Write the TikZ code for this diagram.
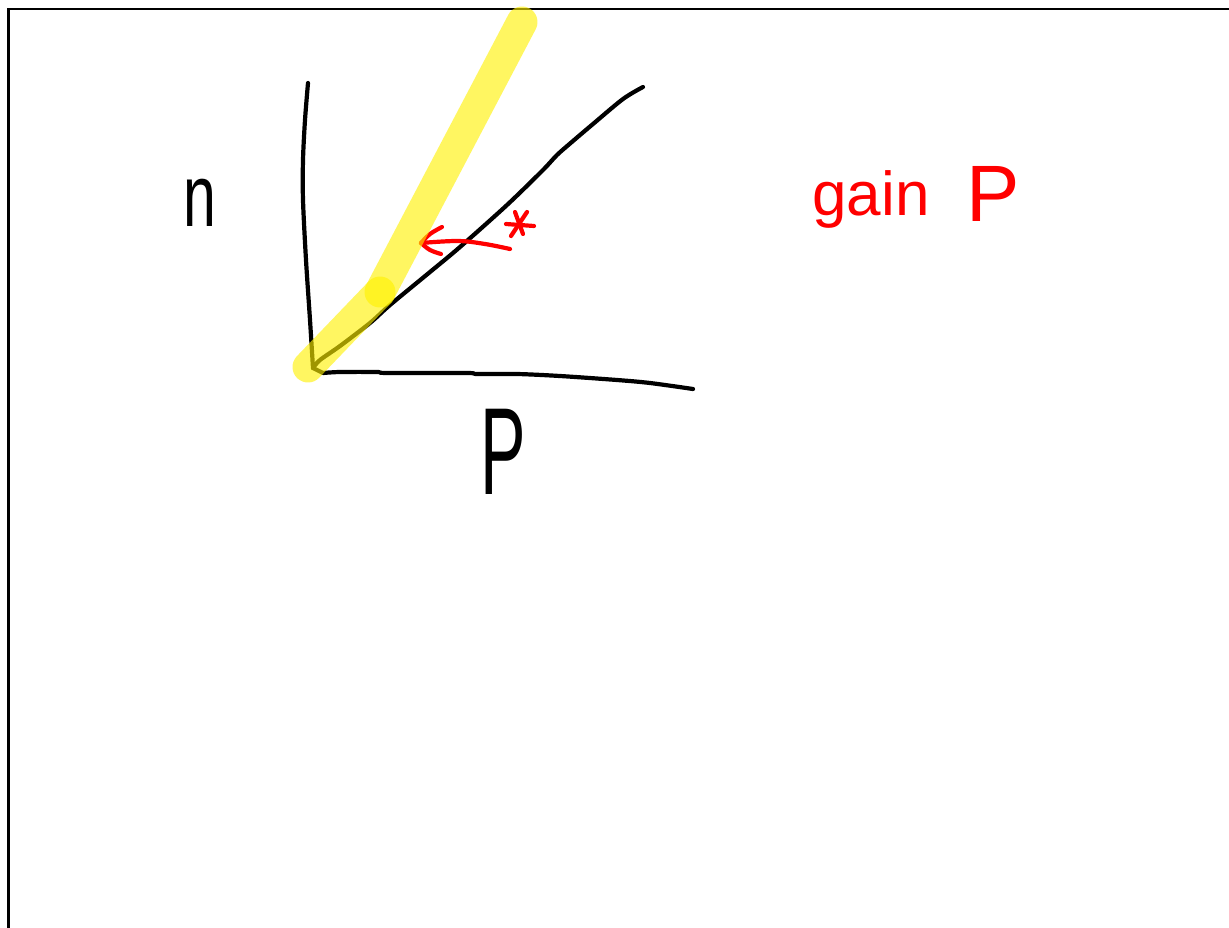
\documentclass[tikz,border=0pt]{standalone}
\usepackage{graphicx}
\usepackage{fontspec}
\setmainfont{Liberation Sans}
\tikzset{
  ink/.style={line width=4.2pt, line cap=round, line join=round, black},
  redink/.style={line width=4.2pt, line cap=round, line join=round, red},
  hilite/.style={line width=31pt, line cap=round, yellow, draw opacity=0.62},
  hand/.style={inner sep=0pt, outer sep=0pt}
}
\begin{document}
\begin{tikzpicture}[x=1pt,y=-1pt]
\useasboundingbox (0,0) rectangle (1229,928);
\clip (0,0) rectangle (1229,928);
\fill[white] (0,0) rectangle (1229,928);
% frame
\draw[line width=2.5pt] (8.5,9) rectangle (1300,1000);
% axes
\draw[ink] plot[smooth, tension=0.5] coordinates {(308,83) (305,120) (303,160) (303,200) (306,260) (310,320) (313,368)};
\draw[ink] plot[smooth, tension=0.5] coordinates {(323,373) (340,372) (377,372) (387,373) (467,373) (477,374) (517,374) (560,376) (617,380) (650,383) (693,389)};
% curve
\draw[ink] plot[smooth, tension=0.5] coordinates {(313,368) (320,360) (340,346) (370,323) (390,305) (430,272) (460,247) (507,205) (543,170) (557,155) (573,141) (593,124) (623,99) (643,87)};
\draw[ink] (313,368) -- (323,373);
% labels
\node[hand, font=\fontsize{88}{90}\selectfont] (n) at (200,203) {\scalebox{0.67}[1]{n}};
\node[hand, font=\fontsize{124}{126}\selectfont] (p) at (503,452) {\scalebox{0.55}[1]{P}};
% red annotations
\draw[redink] plot[smooth, tension=0.6] coordinates {(510,249) (485,244) (458,241) (421,243)};
\draw[redink] plot[smooth, tension=0.6] coordinates {(442,227) (430,234) (421,243)};
\draw[redink] plot[smooth, tension=0.6] coordinates {(421,243) (430,250) (441,254)};
\draw[redink] (515,212) -- (523,234);
\draw[redink] (506,224) -- (534,226);
\draw[redink] (527,212) -- (511,236);
\node[hand, red, font=\fontsize{62}{64}\selectfont] (gain) at (871,199) {gain};
\node[hand, red, font=\fontsize{80}{82}\selectfont] (gp) at (993,194) {P};
% highlighter
\draw[hilite] (308,367) -- (380,292);
\draw[hilite] (380,292) -- (522,22);
\end{tikzpicture}
\end{document}
